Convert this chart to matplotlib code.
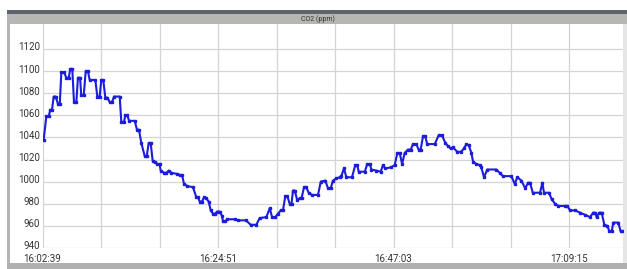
import matplotlib
matplotlib.use("Agg")
import matplotlib.pyplot as plt
import matplotlib.transforms as mtransforms
from matplotlib.patches import Rectangle

plt.rcParams["font.family"] = ["Roboto", "DejaVu Sans"]

# sample times in seconds after 16:02:39 and CO2 readings (ppm)
times = [9, 29, 47, 59, 72, 85, 100, 118, 131, 143, 163, 181, 199, 211, 226, 239, 257, 269, 285, 294,
         313, 328, 345, 358, 401, 416, 434, 446, 461, 477, 492, 510, 528, 543, 586, 598, 619, 628, 644, 657,
         700, 717, 732, 750,
         776, 791, 806, 821, 836, 854, 871, 888, 897, 922, 940, 958, 978, 1023, 1041, 1059, 1074, 1099, 1142, 1167,
         1180, 1193, 1211, 1226, 1243, 1261, 1277, 1294, 1309, 1327, 1345, 1362, 1370, 1387, 1403,
         1461, 1484, 1544, 1580, 1623, 1648, 1699, 1725, 1742, 1767, 1788, 1808, 1825, 1843, 1858, 1876, 1890, 1901,
         1914, 1934, 1952, 1966, 1985, 2002, 2020,
         2045, 2091, 2112, 2146, 2167, 2187, 2205, 2230, 2256, 2268, 2288, 2306, 2349, 2374, 2389, 2400, 2446, 2465,
         2484, 2496, 2534, 2567, 2584, 2602, 2647, 2673, 2693, 2711, 2729, 2749, 2774, 2795, 2812, 2837, 2855, 2870,
         2888, 2905, 2920,
         2977, 3007, 3032, 3057, 3078, 3098, 3116, 3148, 3176, 3199, 3217, 3235, 3255, 3268, 3293, 3318, 3330, 3351,
         3376, 3444, 3470, 3495, 3558, 3584, 3604, 3634, 3664, 3685, 3700, 3721, 3776, 3794, 3806, 3844, 3865, 3890,
         3915, 3966, 3983, 4004, 4042, 4080, 4118, 4155, 4181, 4194, 4205, 4226, 4244, 4264, 4288, 4302, 4320, 4332,
         4370, 4388, 4400]
co2 = [1038, 1059, 1059, 1065, 1065, 1077, 1077, 1070, 1070, 1099, 1099, 1094, 1094, 1102, 1102, 1072, 1072, 1094,
       1094, 1078, 1078, 1100, 1100, 1092, 1092, 1077, 1077, 1092, 1092, 1076, 1076, 1072, 1072, 1077, 1077, 1054,
       1054, 1060, 1060, 1055, 1055, 1047, 1047, 1035,
       1023, 1023, 1035, 1035, 1019, 1018, 1016, 1016, 1010, 1008, 1008, 1010, 1008, 1007, 1006, 1006, 998, 996,
       995, 986, 986, 982, 982, 986, 985, 982, 974, 971, 971, 973, 973, 969, 964, 964, 966,
       966, 965, 965, 961, 961, 967, 968, 976, 968, 968, 971, 974, 974, 987, 987, 980, 980, 992, 992, 983,
       985, 985, 995, 995, 990,
       988, 988, 1000, 1001, 994, 994, 1001, 1003, 1004, 1005, 1012, 1004, 1004, 1015, 1015, 1009, 1009, 1016,
       1016, 1011, 1010, 1009, 1015, 1012, 1013, 1015, 1026, 1026, 1016, 1026, 1029, 1029, 1034, 1034, 1029, 1029,
       1041, 1041, 1034,
       1034, 1042, 1042, 1035, 1032, 1030, 1031, 1027, 1027, 1030, 1034, 1033, 1026, 1018, 1016, 1015, 1013, 1004,
       1011, 1011, 1008, 1005, 1005, 998, 1004, 1001, 994, 999, 999, 990, 990, 999, 990, 990, 984, 980,
       978, 978, 978, 974, 974, 972, 970, 968, 972, 972, 968, 972, 972, 961, 960, 955, 955, 963,
       963, 955, 955]

grid_step = 444  # seconds between vertical grid lines (7:24)
x_labels = ["16:02:39", "", "", "16:24:51", "", "", "16:47:03", "", "", "17:09:15"]
y_ticks = [940, 960, 980, 1000, 1020, 1040, 1060, 1080, 1100, 1120]
title = "CO2 (ppm)"

W, H = 627, 269
fig = plt.figure(figsize=(W / 100, H / 100), dpi=100)

def box(x0, y0, x1, y1, color):
    # rectangle given in pixel coords, y measured from the top
    fig.add_artist(Rectangle((x0 / W, 1 - y1 / H), (x1 - x0) / W, (y1 - y0) / H,
                             transform=fig.transFigure, color=color, lw=0, zorder=0))

# window chrome
box(7, 10, 627, 14, "#5e646e")
box(7, 14, 627, 24, "#b6b6b2")
box(7, 14, 9.5, 269, "#b4b4b4")
box(623, 24, 627, 263, "#e6e6e6")
box(7, 263, 627, 269, "#b0b0b0")
fig.text(318 / W, 1 - 19 / H, title, fontsize=5, ha="center", va="center", color="#333333")

ax = fig.add_axes([42.5 / W, 1 - 248 / H, 580 / W, 224 / H])
ax.plot(times, co2, color="#1c1cdc", lw=1.5, marker="s", ms=2.0, zorder=3)

ax.set_xlim(0, 4402)
ax.set_ylim(940, 1142.6)
ax.set_xticks([k * grid_step for k in range(len(x_labels))])
ax.set_xticklabels(x_labels)
ax.set_yticks(y_ticks)
ax.tick_params(length=0, labelsize=7, colors="#333333", pad=2)
ax.tick_params(axis="x", pad=4)
ax.grid(True, color="#d4d4d4", lw=0.9)
for s in ax.spines.values():
    s.set_visible(False)

# y labels sit slightly above their grid lines
lift = mtransforms.ScaledTranslation(0, 2.5 / 100, fig.dpi_scale_trans)
for lab in ax.get_yticklabels():
    lab.set_transform(lab.get_transform() + lift)

fig.savefig("out.png", dpi=100)
